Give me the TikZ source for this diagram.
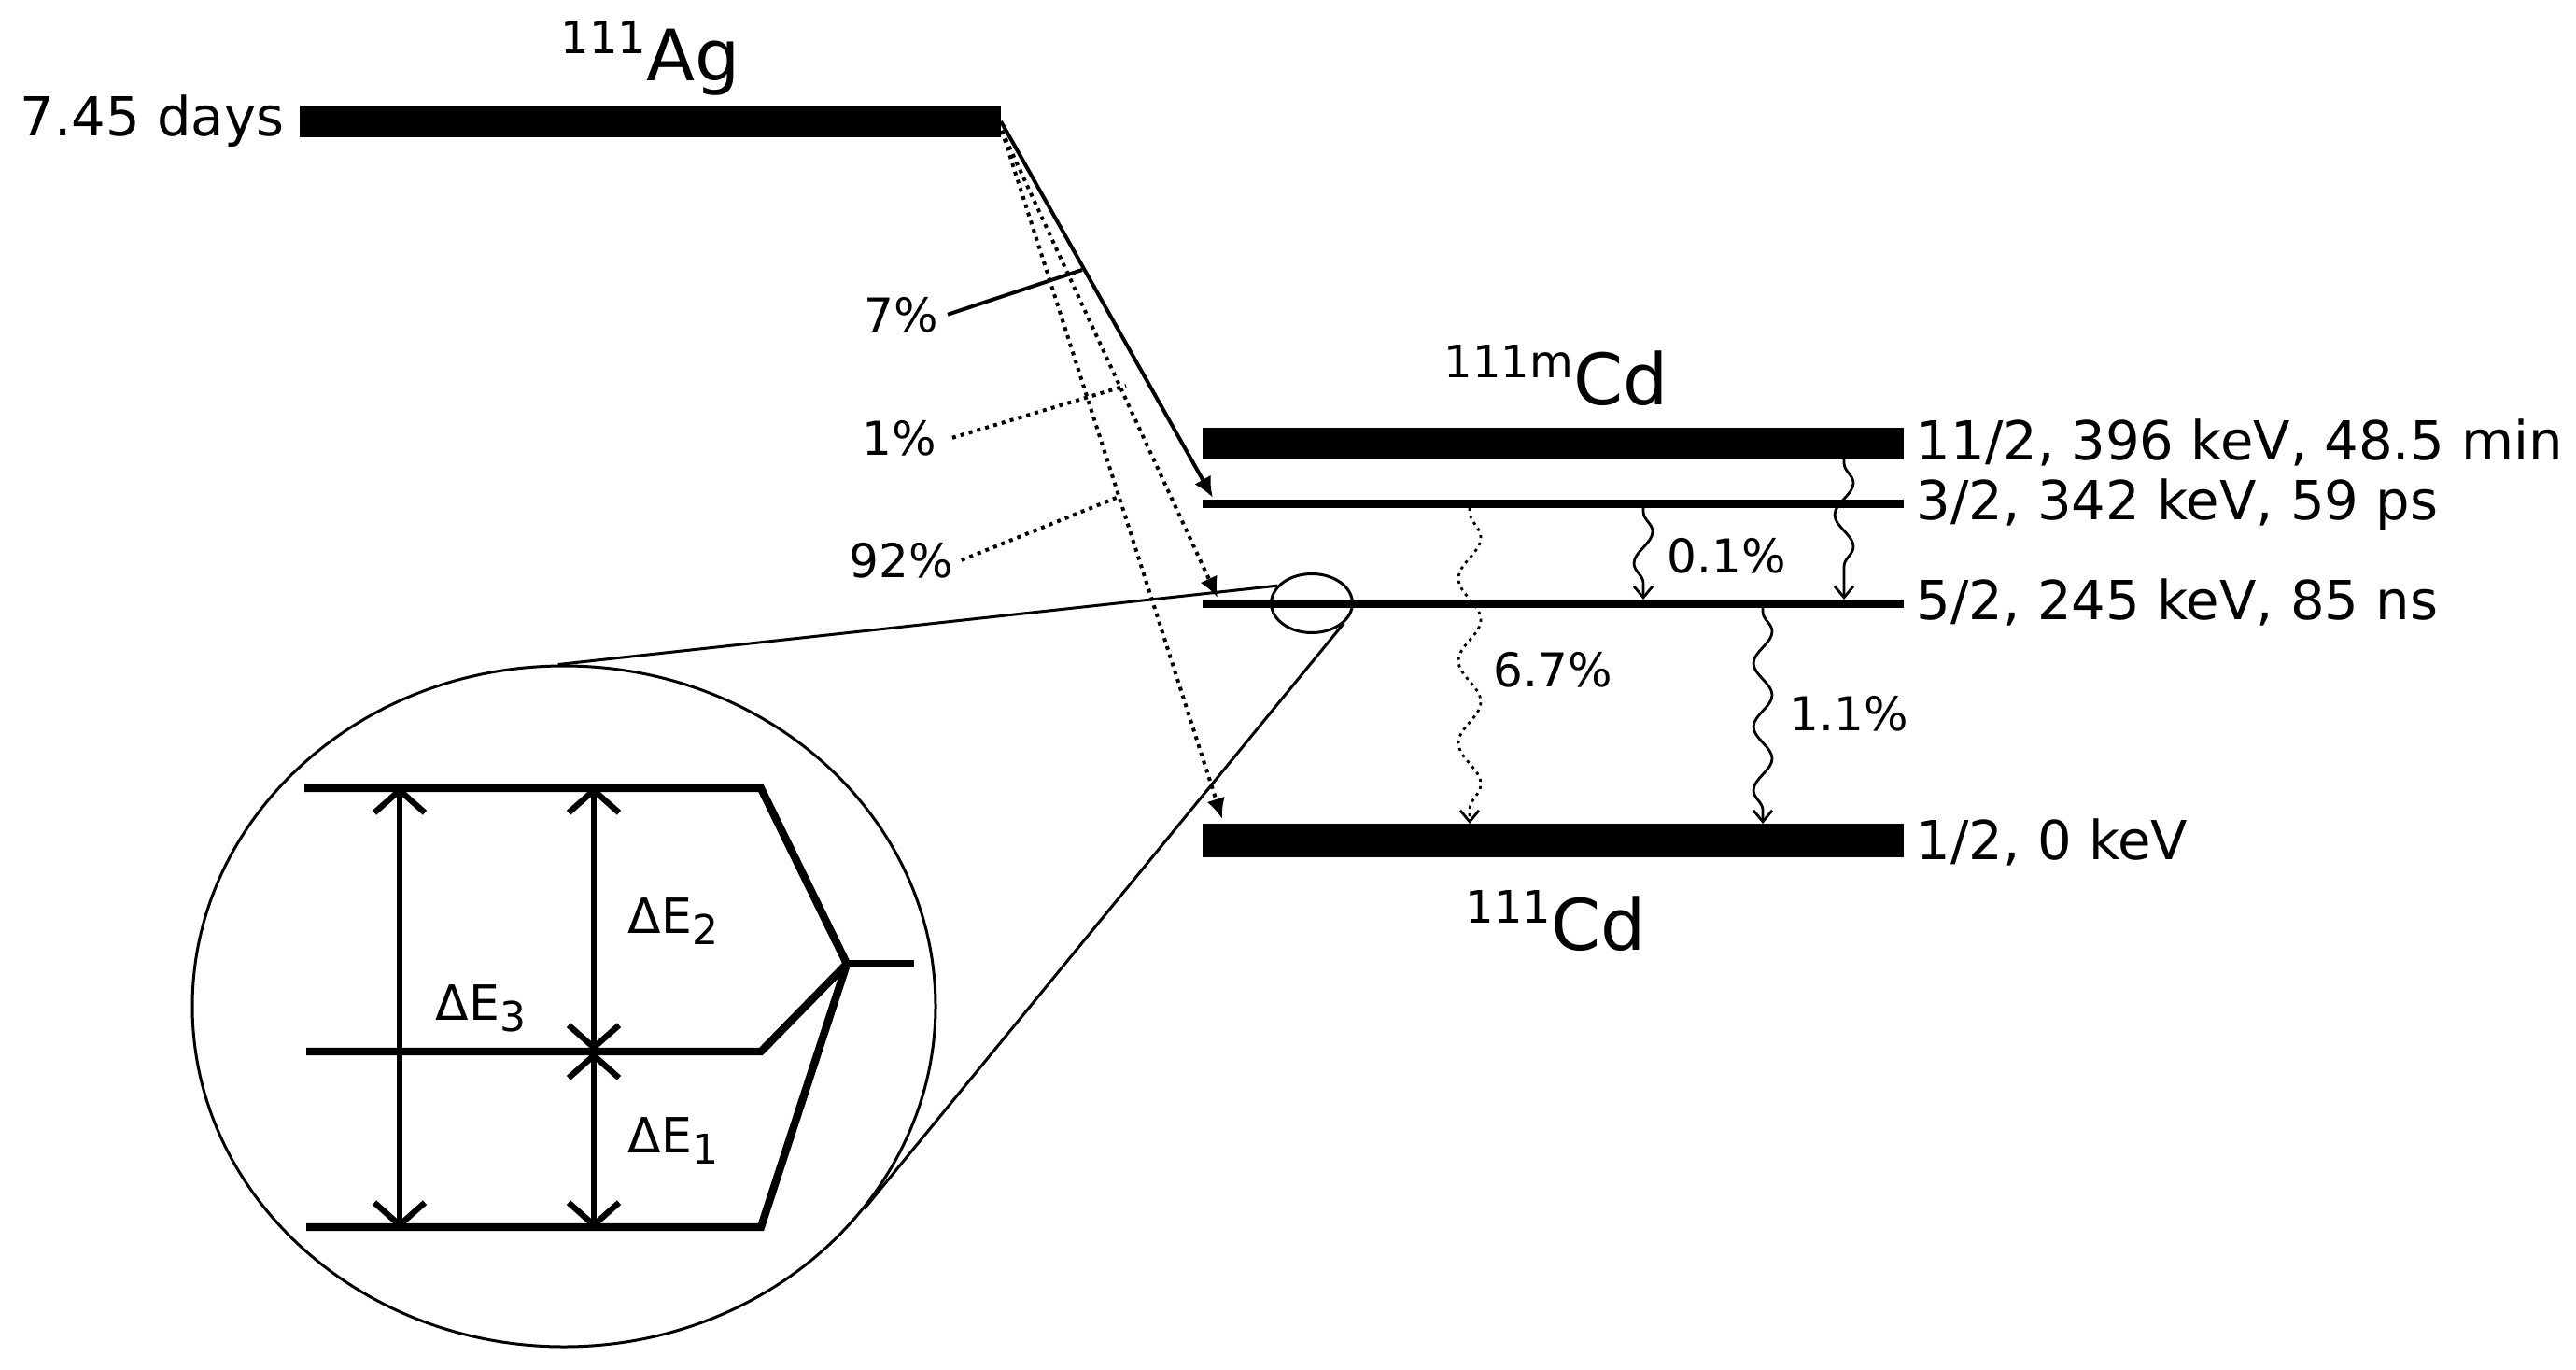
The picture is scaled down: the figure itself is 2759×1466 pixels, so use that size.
\documentclass[tikz,border=0pt]{standalone}
\usepackage{fontspec}
\setmainfont{DejaVu Sans}
\usetikzlibrary{arrows.meta,decorations.pathmorphing,shapes.geometric,fit,calc}
\newcommand\fsz[1]{\fontsize{#1}{#1}\selectfont}
\begin{document}
\begin{tikzpicture}[x=0.25pt,y=-0.25pt,
  level/.style={fill=black, draw=none, inner sep=0pt, outer sep=0pt},
  lbl/.style={anchor=base west, inner sep=0pt, font=\fsz{14.4}},
  pct/.style={anchor=base west, inner sep=0pt, font=\fsz{12.5}},
  iso/.style={anchor=base west, inner sep=0pt},
  dlbl/.style={anchor=base west, inner sep=0pt, font=\fsz{13}},
  beta/.style={line width=1pt, -{Latex[length=5.5pt,width=5pt]}},
  betadot/.style={beta, dash pattern=on 1pt off 1.3pt},
  leader/.style={line width=1pt},
  leaderdot/.style={line width=1pt, dash pattern=on 1pt off 1.3pt},
  gam/.style={line width=0.7pt, -{Straight Barb[length=3pt,width=5pt]},
    decorate, decoration={snake, amplitude=2.5pt, segment length=17pt, pre length=1pt, post length=3.5pt}},
  gamdot/.style={gam, dash pattern=on 0.8pt off 1.2pt,
    decoration={snake, amplitude=3pt, segment length=22pt, pre length=1pt, post length=3.5pt}},
  zoomline/.style={line width=0.75pt},
  inlevel/.style={line width=2.1pt, line join=miter},
  dimarrow/.style={line width=1.6pt, {Straight Barb[length=6pt,width=13.5pt]}-{Straight Barb[length=6pt,width=13.5pt]}}
]
\useasboundingbox (0,0) rectangle (2759,1466);

% levels
\node[level, fit={(321,113) (1072,147)}] (Ag) {};
\node[level, fit={(1288,458) (2039,492)}] (L112) {};
\node[level, fit={(1288,535) (2039,544)}] (L32) {};
\node[level, fit={(1288,642) (2039,651)}] (L52) {};
\node[level, fit={(1288,882) (2039,918)}] (L0) {};

% isotope labels
\node[iso] (tAg) at (600,87) {\raisebox{7.25pt}{\fsz{12}111}\fsz{19}Ag};
\node[iso] (tCdm) at (1546,433) {\raisebox{7.25pt}{\fsz{12}111m}\fsz{19}Cd};
\node[iso] (tCd) at (1569,1017) {\raisebox{7.25pt}{\fsz{12}111}\fsz{19}Cd};

% level labels
\node[lbl] (tdays) at (21,146) {7.45 days};
\node[lbl] (t112) at (2052,492) {11/2, 396 keV, 48.5 min};
\node[lbl] (t32) at (2052,556) {3/2, 342 keV, 59 ps};
\node[lbl] (t52) at (2052,663) {5/2, 245 keV, 85 ns};
\node[lbl] (t0) at (2052,920) {1/2, 0 keV};

% beta decays
\coordinate (b1) at (1299,533);
\coordinate (b2) at (1304,640);
\coordinate (b3) at (1309,877);
\coordinate (bs) at (1073,140);
\draw[beta] (Ag.east) -- (b1);
\draw[betadot] (bs) -- (b2);
\draw[betadot] (bs) -- (b3);

% branching labels
\node[pct] (p7) at (925,355) {7\%};
\node[pct] (p1) at (923,487) {1\%};
\node[pct] (p92) at (909,618) {92\%};
\coordinate (c7) at (1159,289);
\coordinate (c1) at (1206,413);
\coordinate (c92) at (1198,532);
\draw[leader] ($(p7.east)+(9,0)$) -- (c7);
\draw[leaderdot] ($(p1.east)+(16,0)$) -- (c1);
\draw[leaderdot] ($(p92.east)+(8,0)$) -- (c92);

% gamma transitions
\coordinate (x1) at (1975,0);
\coordinate (x2) at (1760,0);
\coordinate (x3) at (1574,0);
\coordinate (x4) at (1888,0);
\draw[gam] (x1 |- L112.south) -- (x1 |- L52.north);
\draw[gam] (x2 |- L32.south) -- (x2 |- L52.north);
\draw[gamdot] (x3 |- L32.south) -- (x3 |- L0.north);
\draw[gam] (x4 |- L52.south) -- (x4 |- L0.north);
\node[pct] (p01) at (1785,613) {0.1\%};
\node[pct] (p67) at (1599,735) {6.7\%};
\node[pct] (p11) at (1916,782) {1.1\%};

% zoom
\node[draw, ellipse, zoomline, minimum width=21.75pt, minimum height=15.75pt, inner sep=0pt] (zs) at (1405,646) {};
\node[draw, ellipse, zoomline, minimum width=199pt, minimum height=182.25pt, inner sep=0pt] (zb) at (604,1077.5) {};
\draw[zoomline] (zs.153) -- (zb.91);
\draw[zoomline] (zs.-32) -- (zb.-34);

% inset: split levels
\coordinate (cv) at (907,1032);
\draw[inlevel] (326,844) -- (815,844) -- (cv);
\draw[inlevel] (328,1126) -- (815,1126) -- (cv);
\draw[inlevel] (328,1314) -- (815,1314) -- (cv);
\draw[inlevel] (cv) -- (979,1032);
\coordinate (a1) at (428,842);
\coordinate (a2) at (428,1316);
\coordinate (a3) at (636,842);
\coordinate (a4) at (636,1126);
\coordinate (a5) at (636,1316);
\draw[dimarrow] (a1) -- (a2);
\draw[dimarrow] (a3) -- (a4);
\draw[dimarrow] (a4) -- (a5);
\node[dlbl] (dE2) at (672,999) {ΔE\raisebox{-3pt}{\fsz{11}2}};
\node[dlbl] (dE3) at (466,1092) {ΔE\raisebox{-3pt}{\fsz{11}3}};
\node[dlbl] (dE1) at (672,1234) {ΔE\raisebox{-3pt}{\fsz{11}1}};
\end{tikzpicture}
\end{document}
